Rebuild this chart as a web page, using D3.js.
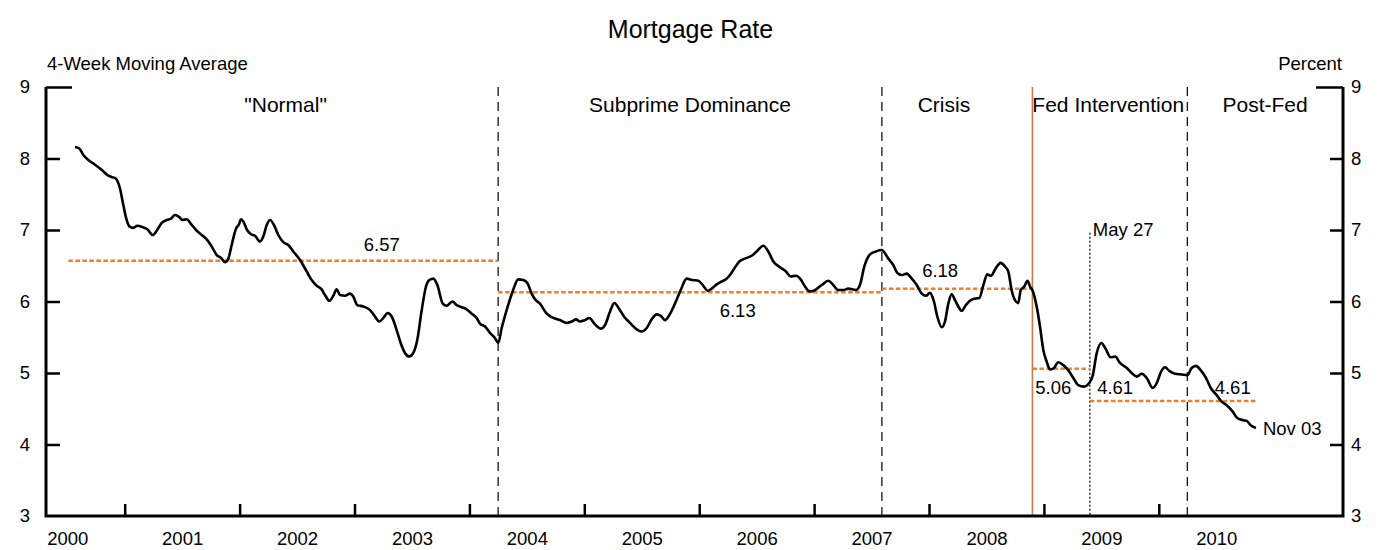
<!DOCTYPE html>
<html>
<head>
<meta charset="utf-8">
<script src="https://cdn.jsdelivr.net/npm/d3@7"></script>
<style>
  body { margin: 0; background: #fff; }
  svg { font-family: "Liberation Sans", Arial, sans-serif; }
</style>
</head>
<body>
<div id="chart"></div>
<script>
// x values are decimal years, rates in percent (4-week moving average)
const years = [2000, 2001, 2002, 2003, 2004, 2005, 2006, 2007, 2008, 2009, 2010];
const yTicks = [3, 4, 5, 6, 7, 8, 9];

const dates = [
  2000.567, 2000.605, 2000.640, 2000.683, 2000.727, 2000.785, 2000.814, 2000.849, 2000.887, 2000.922,
  2000.959, 2000.988, 2001.017, 2001.040, 2001.075, 2001.110, 2001.157, 2001.197, 2001.244, 2001.278,
  2001.322, 2001.366, 2001.403, 2001.438, 2001.475, 2001.501, 2001.540, 2001.574, 2001.627, 2001.670,
  2001.714, 2001.757, 2001.801, 2001.838, 2001.873, 2001.902, 2001.931, 2001.969, 2001.995, 2002.012,
  2002.032, 2002.062, 2002.099, 2002.134, 2002.177, 2002.206, 2002.236, 2002.265, 2002.299, 2002.337,
  2002.380, 2002.424, 2002.467, 2002.526, 2002.584, 2002.627, 2002.671, 2002.714, 2002.743, 2002.781,
  2002.815, 2002.845, 2002.874, 2002.917, 2002.961, 2002.989, 2003.024, 2003.077, 2003.135, 2003.178,
  2003.216, 2003.251, 2003.289, 2003.324, 2003.367, 2003.402, 2003.439, 2003.477, 2003.512, 2003.546,
  2003.585, 2003.622, 2003.651, 2003.686, 2003.721, 2003.768, 2003.802, 2003.851, 2003.889, 2003.933,
  2003.976, 2004.020, 2004.063, 2004.092, 2004.136, 2004.179, 2004.222, 2004.251, 2004.281, 2004.324,
  2004.376, 2004.425, 2004.469, 2004.504, 2004.542, 2004.571, 2004.614, 2004.673, 2004.730, 2004.788,
  2004.846, 2004.890, 2004.928, 2004.962, 2005.006, 2005.043, 2005.093, 2005.143, 2005.180, 2005.224,
  2005.261, 2005.302, 2005.345, 2005.398, 2005.456, 2005.499, 2005.543, 2005.586, 2005.630, 2005.665,
  2005.702, 2005.740, 2005.789, 2005.839, 2005.891, 2005.943, 2005.992, 2006.036, 2006.074, 2006.109,
  2006.152, 2006.196, 2006.233, 2006.268, 2006.305, 2006.349, 2006.398, 2006.457, 2006.500, 2006.558,
  2006.601, 2006.645, 2006.703, 2006.755, 2006.796, 2006.842, 2006.883, 2006.921, 2006.964, 2007.008,
  2007.066, 2007.124, 2007.167, 2007.210, 2007.254, 2007.297, 2007.364, 2007.399, 2007.437, 2007.487,
  2007.538, 2007.588, 2007.646, 2007.689, 2007.724, 2007.763, 2007.806, 2007.850, 2007.893, 2007.937,
  2007.974, 2008.008, 2008.043, 2008.072, 2008.111, 2008.139, 2008.168, 2008.197, 2008.226, 2008.255,
  2008.284, 2008.321, 2008.356, 2008.399, 2008.438, 2008.473, 2008.507, 2008.539, 2008.583, 2008.624,
  2008.661, 2008.690, 2008.720, 2008.748, 2008.777, 2008.798, 2008.829, 2008.857, 2008.879, 2008.902,
  2008.937, 2008.966, 2008.995, 2009.024, 2009.053, 2009.088, 2009.125, 2009.169, 2009.212, 2009.256,
  2009.299, 2009.348, 2009.395, 2009.424, 2009.460, 2009.499, 2009.537, 2009.580, 2009.620, 2009.662,
  2009.721, 2009.764, 2009.808, 2009.851, 2009.895, 2009.947, 2009.982, 2010.020, 2010.054, 2010.091,
  2010.141, 2010.199, 2010.248, 2010.286, 2010.324, 2010.364, 2010.411, 2010.452, 2010.504, 2010.547,
  2010.591, 2010.643, 2010.683, 2010.735, 2010.765, 2010.799, 2010.845
];

const rates = [
  8.16, 8.14, 8.05, 7.98, 7.93, 7.86, 7.82, 7.77, 7.74, 7.72,
  7.58, 7.35, 7.14, 7.05, 7.03, 7.06, 7.04, 7.01, 6.93, 6.99,
  7.10, 7.14, 7.16, 7.21, 7.18, 7.14, 7.15, 7.09, 6.99, 6.93,
  6.87, 6.77, 6.65, 6.61, 6.55, 6.60, 6.79, 7.02, 7.08, 7.15,
  7.12, 7.01, 6.94, 6.92, 6.84, 6.91, 7.07, 7.14, 7.07, 6.93,
  6.83, 6.79, 6.70, 6.58, 6.42, 6.30, 6.22, 6.17, 6.09, 6.01,
  6.08, 6.17, 6.09, 6.08, 6.11, 6.07, 5.95, 5.93, 5.88, 5.79,
  5.72, 5.77, 5.84, 5.79, 5.60, 5.42, 5.28, 5.23, 5.28, 5.46,
  5.88, 6.21, 6.30, 6.32, 6.23, 5.97, 5.94, 6.00, 5.95, 5.92,
  5.89, 5.83, 5.77, 5.69, 5.65, 5.56, 5.49, 5.42, 5.63, 5.88,
  6.14, 6.31, 6.30, 6.26, 6.11, 6.03, 5.97, 5.83, 5.77, 5.74,
  5.70, 5.72, 5.75, 5.72, 5.74, 5.77, 5.68, 5.62, 5.67, 5.86,
  5.98, 5.90, 5.79, 5.70, 5.61, 5.58, 5.63, 5.75, 5.82, 5.80,
  5.74, 5.81, 5.97, 6.16, 6.32, 6.30, 6.29, 6.22, 6.15, 6.18,
  6.24, 6.28, 6.31, 6.37, 6.46, 6.56, 6.60, 6.64, 6.70, 6.78,
  6.70, 6.56, 6.48, 6.42, 6.35, 6.36, 6.31, 6.21, 6.14, 6.16,
  6.23, 6.29, 6.23, 6.16, 6.16, 6.18, 6.16, 6.23, 6.49, 6.66,
  6.70, 6.72, 6.60, 6.51, 6.40, 6.37, 6.39, 6.32, 6.23, 6.11,
  6.08, 6.12, 6.00, 5.79, 5.64, 5.72, 5.97, 6.10, 6.02, 5.93,
  5.87, 5.95, 6.01, 6.04, 6.05, 6.23, 6.38, 6.36, 6.47, 6.54,
  6.49, 6.42, 6.15, 6.02, 5.98, 6.16, 6.21, 6.29, 6.21, 6.15,
  5.93, 5.65, 5.32, 5.16, 5.05, 5.07, 5.15, 5.11, 5.04, 4.93,
  4.83, 4.81, 4.86, 4.96, 5.28, 5.42, 5.34, 5.22, 5.23, 5.14,
  5.07, 5.00, 4.95, 4.99, 4.93, 4.79, 4.86, 5.02, 5.08, 5.03,
  4.99, 4.98, 4.97, 5.07, 5.10, 5.04, 4.93, 4.79, 4.69, 4.60,
  4.55, 4.46, 4.37, 4.34, 4.33, 4.27, 4.23
];

const periodNames = ["\"Normal\"", "Subprime Dominance", "Crisis", "Fed Intervention", "Post-Fed"];
const periodLabelDates = [2002.40, 2005.92, 2008.13, 2009.56, 2010.925];

const dashedBreaks = [2004.25, 2007.59, 2010.248];   // subprime, crisis, post-fed
const fedStart = 2008.90;                             // Nov 25, 2008
const may27 = 2009.40;

const avgStarts = [2000.51, 2004.25, 2007.59, 2008.90, 2009.40];
const avgEnds = [2004.25, 2007.59, 2008.90, 2009.40, 2010.845];
const avgValues = [6.57, 6.13, 6.18, 5.06, 4.61];

const avgLabelTexts = ["6.57", "6.13", "6.18", "5.06", "4.61", "4.61"];
const avgLabelDates = [2003.237, 2006.335, 2008.097, 2009.082, 2009.62, 2010.643];
const avgLabelValues = [6.57, 6.13, 6.18, 5.06, 4.61, 4.61];

const width = 1381, height = 550;
const smallFont = 18.5;

const x = d3.scaleLinear()
    .domain([2000.315, 2011.603])
    .range([46, 1343]);

const y = d3.scaleLinear()
    .domain([3, 9])
    .range([516, 87]);

const svg = d3.select("#chart")
    .append("svg")
    .attr("width", width)
    .attr("height", height);

// period separators
svg.selectAll("line.break")
    .data(dashedBreaks)
    .enter()
    .append("line")
    .attr("class", "break")
    .attr("x1", d => x(d))
    .attr("x2", d => x(d))
    .attr("y1", y(9))
    .attr("y2", y(3))
    .attr("stroke", "#000")
    .attr("stroke-width", 1.2)
    .attr("stroke-dasharray", "9,6");

svg.append("line")
    .attr("x1", x(fedStart))
    .attr("x2", x(fedStart))
    .attr("y1", y(9))
    .attr("y2", y(3))
    .attr("stroke", "#c27c4e")
    .attr("stroke-width", 1.6);

svg.append("line")
    .attr("x1", x(may27))
    .attr("x2", x(may27))
    .attr("y1", y(6.96))
    .attr("y2", y(3))
    .attr("stroke", "#000")
    .attr("stroke-width", 1.2)
    .attr("stroke-dasharray", "2,2");

// period averages
svg.selectAll("line.avg")
    .data(avgValues)
    .enter()
    .append("line")
    .attr("class", "avg")
    .attr("x1", (d, i) => x(avgStarts[i]))
    .attr("x2", (d, i) => x(avgEnds[i]))
    .attr("y1", d => y(d))
    .attr("y2", d => y(d))
    .attr("stroke", "#ef7f2a")
    .attr("stroke-width", 2.5)
    .attr("stroke-dasharray", "4.5,2.5");

// the rate
const line = d3.line()
    .x(d => x(d[0]))
    .y(d => y(d[1]))
    .curve(d3.curveMonotoneX);

svg.append("path")
    .datum(d3.zip(dates, rates))
    .attr("fill", "none")
    .attr("stroke", "#000")
    .attr("stroke-width", 2.6)
    .attr("stroke-linejoin", "round")
    .attr("d", line);

// axes
const xTickAxis = d3.axisBottom(x)
    .tickValues(d3.range(2001, 2011))
    .tickSize(-12)
    .tickSizeOuter(0)
    .tickFormat("");

const xLabelAxis = d3.axisBottom(x)
    .tickValues(years.map(d => d + 0.5))
    .tickSize(0)
    .tickPadding(16)
    .tickFormat(d => Math.floor(d));

const gxTicks = svg.append("g")
    .attr("transform", "translate(0," + y(3) + ")")
    .call(xTickAxis);
gxTicks.select(".domain").remove();
gxTicks.selectAll(".tick line").attr("stroke-width", 2.5);

const gxLabels = svg.append("g")
    .attr("transform", "translate(0," + y(3) + ")")
    .call(xLabelAxis);
gxLabels.select(".domain").remove();

const yLeft = d3.axisLeft(y).tickValues(yTicks).tickSize(-14).tickPadding(16).tickFormat(d3.format("d"));
const yRight = d3.axisRight(y).tickValues(yTicks).tickSize(-13).tickPadding(8).tickFormat(d3.format("d"));

const gyl = svg.append("g")
    .attr("transform", "translate(" + x.range()[0] + ",0)")
    .call(yLeft);
const gyr = svg.append("g")
    .attr("transform", "translate(" + x.range()[1] + ",0)")
    .call(yRight);

[gyl, gyr].forEach(g => {
    g.select(".domain").remove();
    g.selectAll(".tick line").attr("stroke-width", 2.5);
    g.selectAll(".tick").filter(d => d === 3).select("line").remove();
});
gyl.selectAll(".tick").filter(d => d === 9).select("line").attr("x2", 26);
gyr.selectAll(".tick").filter(d => d === 9).select("line").attr("x2", -27);

svg.selectAll(".tick text")
    .attr("font-size", smallFont)
    .attr("font-family", "Liberation Sans, Arial, sans-serif")
    .attr("fill", "#000");

// frame: left, bottom, right
svg.append("path")
    .attr("d", "M" + x.range()[0] + "," + y(9) + "V" + y(3) + "H" + x.range()[1] + "V" + y(9))
    .attr("fill", "none")
    .attr("stroke", "#000")
    .attr("stroke-width", 3);

// texts
svg.append("text")
    .attr("x", width / 2)
    .attr("y", 38)
    .attr("text-anchor", "middle")
    .attr("font-size", 25)
    .text("Mortgage Rate");

svg.append("text")
    .attr("x", 47)
    .attr("y", 70)
    .attr("font-size", smallFont)
    .text("4-Week Moving Average");

svg.append("text")
    .attr("x", 1342)
    .attr("y", 70)
    .attr("text-anchor", "end")
    .attr("font-size", smallFont)
    .text("Percent");

svg.selectAll("text.period")
    .data(periodNames)
    .enter()
    .append("text")
    .attr("class", "period")
    .attr("x", (d, i) => x(periodLabelDates[i]))
    .attr("y", y(9) + 25)
    .attr("text-anchor", "middle")
    .attr("font-size", 21)
    .text(d => d);

// labels above (-) or below (+) their average line
const avgLabelOffsets = [-10, 25, -12, 25, -7, -7];
svg.selectAll("text.avg")
    .data(avgLabelTexts)
    .enter()
    .append("text")
    .attr("class", "avg")
    .attr("x", (d, i) => x(avgLabelDates[i]))
    .attr("y", (d, i) => y(avgLabelValues[i]) + avgLabelOffsets[i])
    .attr("text-anchor", "middle")
    .attr("font-size", smallFont)
    .text(d => d);

svg.append("text")
    .attr("x", x(may27) + 3)
    .attr("y", y(6.96) + 3)
    .attr("font-size", smallFont)
    .text("May 27");

svg.append("text")
    .attr("x", x(dates[dates.length - 1]) + 7)
    .attr("y", y(rates[rates.length - 1]))
    .attr("dy", "0.36em")
    .attr("font-size", smallFont)
    .text("Nov 03");
</script>
</body>
</html>
